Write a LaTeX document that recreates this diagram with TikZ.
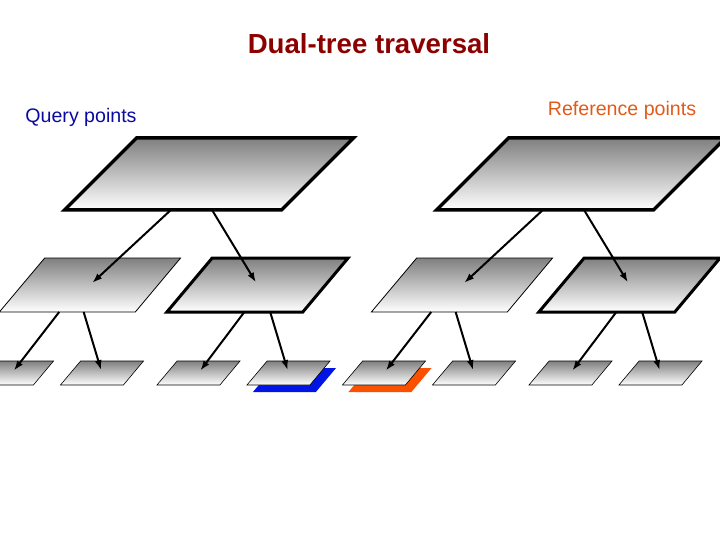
\documentclass[tikz,border=0pt]{standalone}
\usepackage{fontspec}
\setmainfont{Liberation Sans}
\usetikzlibrary{arrows.meta,positioning,calc,shapes.geometric,shadows}
\definecolor{titleRed}{RGB}{140,0,0}
\definecolor{queryBlue}{RGB}{10,10,160}
\definecolor{refOrange}{RGB}{225,90,25}
\definecolor{shadowBlue}{RGB}{0,20,230}
\definecolor{shadowOrange}{RGB}{250,80,0}

\tikzset{
  kdbox/.style={trapezium, outer sep=0pt, draw,
    top color=black!50, bottom color=white, line join=miter},
  rootbox/.style={kdbox, trapezium left angle=45, trapezium right angle=135,
    inner xsep=72.5pt, inner ysep=36pt, line width=3.5pt},
  midbox/.style={kdbox, trapezium left angle=50, trapezium right angle=130,
    inner xsep=45.3pt, inner ysep=27pt, line width=0.8pt},
  leafbox/.style={kdbox, trapezium left angle=50, trapezium right angle=130,
    inner xsep=21.4pt, inner ysep=12pt, line width=0.6pt},
  heavy/.style={line width=3pt},
  link/.style={-{Latex[length=10pt,width=7pt]}, line width=2pt, shorten >=3pt},
}

\begin{document}
\begin{tikzpicture}[x=1pt, y=-1pt]
    \useasboundingbox (0,0) rectangle (720,540);
    \clip (0,0) rectangle (720,540);

    % Titles
    \node[titleRed, font=\fontsize{27.6}{30}\selectfont\bfseries] (title) at (369,44) {Dual-tree traversal};
    \node[queryBlue, font=\fontsize{19.6}{22}\selectfont] (qlabel) at (81,117) {Query points};
    \node[refOrange, font=\fontsize{19.6}{22}\selectfont] (rlabel) at (622,110) {Reference points};

    % Query tree
    \node[rootbox] (qroot) at (209,174) {};
    \node[midbox] (qa) at (90,285) {};
    \node[midbox, heavy] (qb) at (257.5,285) {};
    \node[leafbox] (qaa) at (12,373) {};
    \node[leafbox] (qab) at (102,373) {};
    \node[leafbox] (qba) at (198.5,373) {};
    \node[leafbox, drop shadow={shadow xshift=6pt, shadow yshift=-7pt, fill=shadowBlue, opacity=1}] (qbb) at (288.5,373) {};

    % Reference tree
    \node[rootbox] (rroot) at (581,174) {};
    \node[midbox] (ra) at (462,285) {};
    \node[midbox, heavy] (rb) at (629.5,285) {};
    \node[leafbox, drop shadow={shadow xshift=6pt, shadow yshift=-7pt, fill=shadowOrange, opacity=1}] (raa) at (384,373) {};
    \node[leafbox] (rab) at (474,373) {};
    \node[leafbox] (rba) at (570.5,373) {};
    \node[leafbox] (rbb) at (660.5,373) {};

    % Links in the query tree
    \draw[link] ($(qroot.bottom left corner)!0.49!(qroot.bottom right corner)$) -- (qa.center);
    \draw[link] ($(qroot.bottom left corner)!0.68!(qroot.bottom right corner)$) -- (qb.center);
    \draw[link] ($(qa.bottom left corner)!0.44!(qa.bottom right corner)$) -- (qaa.center);
    \draw[link] ($(qa.bottom left corner)!0.62!(qa.bottom right corner)$) -- (qab.center);
    \draw[link] ($(qb.bottom left corner)!0.57!(qb.bottom right corner)$) -- (qba.center);
    \draw[link] ($(qb.bottom left corner)!0.76!(qb.bottom right corner)$) -- (qbb.center);

    % Links in the reference tree
    \draw[link] ($(rroot.bottom left corner)!0.49!(rroot.bottom right corner)$) -- (ra.center);
    \draw[link] ($(rroot.bottom left corner)!0.68!(rroot.bottom right corner)$) -- (rb.center);
    \draw[link] ($(ra.bottom left corner)!0.44!(ra.bottom right corner)$) -- (raa.center);
    \draw[link] ($(ra.bottom left corner)!0.62!(ra.bottom right corner)$) -- (rab.center);
    \draw[link] ($(rb.bottom left corner)!0.57!(rb.bottom right corner)$) -- (rba.center);
    \draw[link] ($(rb.bottom left corner)!0.76!(rb.bottom right corner)$) -- (rbb.center);
  \end{tikzpicture}
\end{document}
